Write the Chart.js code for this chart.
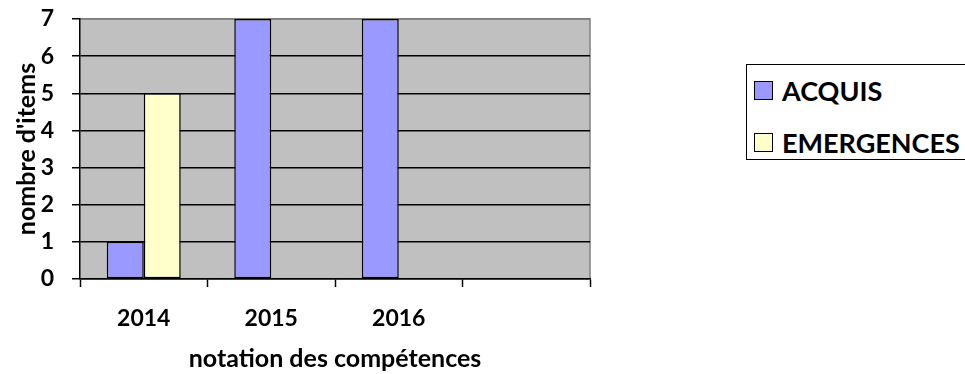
<!DOCTYPE html>
<html>
<head>
<meta charset="utf-8">
<script src="https://cdn.jsdelivr.net/npm/chart.js@4/dist/chart.umd.min.js"></script>
<style>
  html, body { margin: 0; padding: 0; background: #fff; }
  #wrap { position: relative; width: 965px; height: 374px; overflow: hidden; }
  #competencesChart { position: absolute; left: 0; top: 0; }
  #legend {
    position: absolute; left: 746px; top: 64px; width: 240px; height: 94px;
    border: 1.5px solid #000; background: #fff;
    font-family: Lato, "Open Sans", sans-serif; font-weight: bold; font-size: 27px; color: #000;
  }
  #legend .item { position: absolute; left: 7px; height: 30px; display: flex; align-items: center; white-space: nowrap; }
  #legend .swatch { width: 17px; height: 17px; border: 1.5px solid #000; margin-right: 9px; flex: none; }
</style>
</head>
<body>
<div id="wrap">
  <canvas id="competencesChart" width="965" height="374"></canvas>
  <div id="legend"></div>
</div>
<script>
const years = ['2014', '2015', '2016', ''];
const acquis = [1, 7, 7, null];
const emergences = [5, 0, 0, null];
const yTicks = [0, 1, 2, 3, 4, 5, 6, 7];

const seriesNames = ['ACQUIS', 'EMERGENCES'];
const seriesColors = ['#9999FF', '#FFFFCC'];

const fontFamily = 'Lato, "Open Sans", sans-serif';

// gray plot background and border around the plot area
const plotBackground = {
    id: 'plotBackground',
    beforeDraw(chart) {
        const { ctx, chartArea: a } = chart;
        ctx.save();
        ctx.fillStyle = '#C0C0C0';
        ctx.fillRect(a.left, a.top, a.right - a.left, a.bottom - a.top);
        ctx.strokeStyle = '#808080';
        ctx.lineWidth = 1.5;
        ctx.beginPath();
        ctx.moveTo(a.left, a.top);
        ctx.lineTo(a.right, a.top);
        ctx.lineTo(a.right, a.bottom);
        ctx.stroke();
        ctx.restore();
    }
};

const ctx = document.getElementById('competencesChart').getContext('2d');
const chart = new Chart(ctx, {
    type: 'bar',
    data: {
        labels: years,
        datasets: [
            {
                label: seriesNames[0],
                data: acquis,
                backgroundColor: seriesColors[0],
                borderColor: '#000',
                borderWidth: 1.5,
                borderSkipped: false
            },
            {
                label: seriesNames[1],
                data: emergences,
                backgroundColor: seriesColors[1],
                borderColor: '#000',
                borderWidth: 1.5,
                borderSkipped: false
            }
        ]
    },
    options: {
        responsive: false,
        animation: false,
        layout: { padding: { top: 19, right: 375, left: 0, bottom: 0 } },
        categoryPercentage: 0.58,
        barPercentage: 1.0,
        plugins: {
            legend: { display: false },
            tooltip: { enabled: false }
        },
        scales: {
            x: {
                grid: {
                    offset: true,
                    drawOnChartArea: false,
                    tickLength: 8,
                    tickColor: '#000',
                    tickWidth: 1.5
                },
                border: { color: '#000', width: 1.5 },
                ticks: {
                    color: '#000',
                    padding: 18,
                    font: { family: fontFamily, weight: 'bold', size: 23 }
                },
                title: {
                    display: true,
                    text: 'notation des compétences',
                    color: '#000',
                    padding: { top: 0, bottom: 0 },
                    font: { family: fontFamily, weight: 'bold', size: 25 }
                },
                afterFit(scale) {
                    scale.height = 95;
                    scale.paddingLeft = 0;
                    scale.paddingRight = 0;
                }
            },
            y: {
                min: 0,
                max: 7,
                afterBuildTicks(scale) { scale.ticks = yTicks.map(v => ({ value: v })); },
                grid: {
                    color: c => (c.tick && c.tick.value === 7 ? '#808080' : '#000'),
                    lineWidth: 1.5,
                    tickLength: 8,
                    tickColor: '#000',
                    tickWidth: 1.5
                },
                border: { color: '#000', width: 1.5 },
                ticks: {
                    color: '#000',
                    padding: 18,
                    font: { family: fontFamily, weight: 'bold', size: 23 }
                },
                title: {
                    display: true,
                    text: "nombre d'items",
                    color: '#000',
                    padding: { top: 12, bottom: 0 },
                    font: { family: fontFamily, weight: 'bold', size: 25 }
                },
                afterFit(scale) {
                    scale.width = 80;
                    scale.paddingTop = 0;
                    scale.paddingBottom = 0;
                }
            }
        }
    },
    plugins: [plotBackground]
});

// legend built from the datasets
const legend = document.getElementById('legend');
chart.data.datasets.forEach((ds, i) => {
    const item = document.createElement('div');
    item.className = 'item';
    item.style.top = (i === 0 ? 10 : 62) + 'px';
    const sw = document.createElement('span');
    sw.className = 'swatch';
    sw.style.background = ds.backgroundColor;
    item.appendChild(sw);
    item.appendChild(document.createTextNode(ds.label));
    legend.appendChild(item);
});
</script>
</body>
</html>
